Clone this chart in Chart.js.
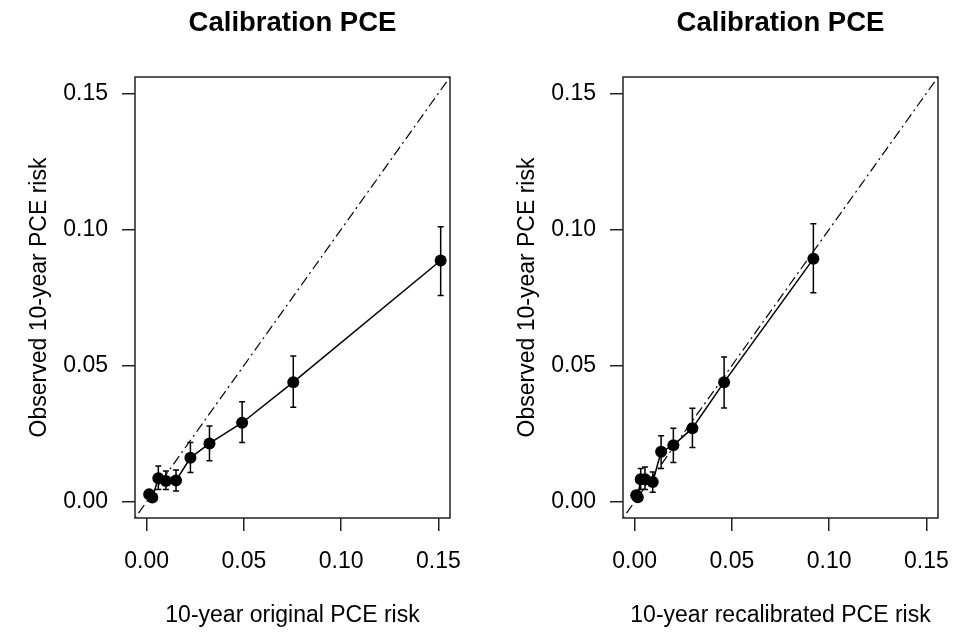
<!DOCTYPE html>
<html>
<head>
<meta charset="utf-8">
<script src="https://cdn.jsdelivr.net/npm/chart.js@4"></script>
<style>
  body { margin:0; background:#fff; }
  .panel { position:absolute; top:0; width:488px; height:635px; }
</style>
</head>
<body>
<div class="panel" style="left:0"><canvas id="cLeft" width="488" height="635"></canvas></div>
<div class="panel" style="left:488px"><canvas id="cRight" width="488" height="635"></canvas></div>
<script>
// ── calibration plots: observed vs predicted 10-year PCE risk ──

var tickVals = [0, 0.05, 0.10, 0.15];
var axisMin  = -0.006;
var axisMax  = 0.156;

// left panel: original PCE
var predOrig = [0.0013, 0.0029, 0.0060, 0.0099, 0.0151, 0.0225, 0.0323, 0.0491, 0.0754, 0.1512];
var obsOrig  = [0.0027, 0.0015, 0.0086, 0.0076, 0.0078, 0.0161, 0.0214, 0.0290, 0.0439, 0.0886];
var lowOrig  = [0.0015, 0.0006, 0.0045, 0.0045, 0.0039, 0.0107, 0.0150, 0.0217, 0.0347, 0.0757];
var highOrig = [0.0039, 0.0024, 0.0131, 0.0113, 0.0116, 0.0217, 0.0278, 0.0367, 0.0535, 0.1010];

// right panel: recalibrated PCE
var predRecal = [0.0008, 0.0016, 0.0031, 0.0053, 0.0093, 0.0136, 0.0199, 0.0297, 0.0460, 0.0919];
var obsRecal  = [0.0024, 0.0016, 0.0082, 0.0082, 0.0072, 0.0183, 0.0207, 0.0270, 0.0439, 0.0892];
var lowRecal  = [0.0012, 0.0007, 0.0045, 0.0045, 0.0035, 0.0122, 0.0144, 0.0199, 0.0344, 0.0767];
var highRecal = [0.0036, 0.0025, 0.0122, 0.0127, 0.0109, 0.0242, 0.0270, 0.0343, 0.0531, 0.1021];

var FONT = '"Liberation Sans", Arial, Helvetica, sans-serif';

function g(id) { return document.getElementById(id); }

// error bars with small caps, drawn from data through the scales
var errorBars = {
  id: 'errorBars',
  afterDatasetsDraw: function(chart, args, opts) {
    var xs = chart.scales.x, ys = chart.scales.y, ctx = chart.ctx;
    ctx.save();
    ctx.strokeStyle = '#000';
    ctx.lineWidth = 1.5;
    opts.x.forEach(function(v, i) {
      var px = xs.getPixelForValue(v);
      var y1 = ys.getPixelForValue(opts.low[i]);
      var y2 = ys.getPixelForValue(opts.high[i]);
      ctx.beginPath();
      ctx.moveTo(px, y1); ctx.lineTo(px, y2);
      ctx.moveTo(px - 3, y1); ctx.lineTo(px + 3, y1);
      ctx.moveTo(px - 3, y2); ctx.lineTo(px + 3, y2);
      ctx.stroke();
    });
    ctx.restore();
  }
};

var frameBox = {
  id: 'frameBox',
  afterDraw: function(chart) {
    var a = chart.chartArea, ctx = chart.ctx;
    ctx.save();
    ctx.strokeStyle = '#222';
    ctx.lineWidth = 1.5;
    ctx.strokeRect(a.left, a.top, a.right - a.left, a.bottom - a.top);
    ctx.restore();
  }
};

function fixedTicks(scale) {
  scale.ticks = tickVals.map(function(v) { return { value: v }; });
}

function makeChart(id, pred, obs, low, high, xTitle) {
  var pts = pred.map(function(p, i) { return { x: p, y: obs[i] }; });
  var diag = [{ x: axisMin, y: axisMin }, { x: axisMax, y: axisMax }];

  return new Chart(g(id).getContext('2d'), {
    type: 'scatter',
    data: {
      datasets: [
        {
          data: diag, showLine: true, borderColor: '#000', borderWidth: 1.2,
          borderDash: [2, 4, 10, 4], pointRadius: 0, fill: false
        },
        {
          data: pts, showLine: true, borderColor: '#000', borderWidth: 1.5,
          pointRadius: 6, pointBackgroundColor: '#000', pointBorderColor: '#000',
          pointBorderWidth: 0, tension: 0, fill: false
        }
      ]
    },
    options: {
      responsive: false, animation: false,
      devicePixelRatio: 1,
      layout: { padding: { left: 0, right: 38, top: 0, bottom: 0 } },
      plugins: {
        legend: { display: false },
        tooltip: { enabled: false },
        title: {
          display: true, text: 'Calibration PCE', fullSize: false,
          color: '#000', font: { family: FONT, size: 27.5, weight: 'bold', lineHeight: 1.2 },
          padding: { top: 7, bottom: 37 }
        },
        errorBars: { x: pred, low: low, high: high }
      },
      scales: {
        x: {
          type: 'linear', min: axisMin, max: axisMax,
          afterBuildTicks: fixedTicks,
          afterFit: function(s) { s.height = 117; },
          border: { display: false },
          grid: { drawOnChartArea: false, drawTicks: true, tickLength: 13, tickColor: '#222', lineWidth: 1.5 },
          ticks: {
            color: '#000', font: { family: FONT, size: 23 }, padding: 17, maxRotation: 0,
            callback: function(v) { return v.toFixed(2); }
          },
          title: {
            display: true, text: xTitle, color: '#000',
            font: { family: FONT, size: 23, lineHeight: 1.2 }, padding: { top: 0, bottom: 6 }
          }
        },
        y: {
          type: 'linear', min: axisMin, max: axisMax,
          afterBuildTicks: fixedTicks,
          afterFit: function(s) { s.width = 135; },
          border: { display: false },
          grid: { drawOnChartArea: false, drawTicks: true, tickLength: 13, tickColor: '#222', lineWidth: 1.5 },
          ticks: {
            color: '#000', font: { family: FONT, size: 23 }, padding: 14,
            callback: function(v) { return v.toFixed(2); }
          },
          title: {
            display: true, text: 'Observed 10-year PCE risk', color: '#000',
            font: { family: FONT, size: 23, lineHeight: 1.2 }, padding: { top: 26, bottom: 26 }
          }
        }
      }
    },
    plugins: [errorBars, frameBox]
  });
}

makeChart('cLeft',  predOrig,  obsOrig,  lowOrig,  highOrig,  '10-year original PCE risk');
makeChart('cRight', predRecal, obsRecal, lowRecal, highRecal, '10-year recalibrated PCE risk');
</script>
</body>
</html>
